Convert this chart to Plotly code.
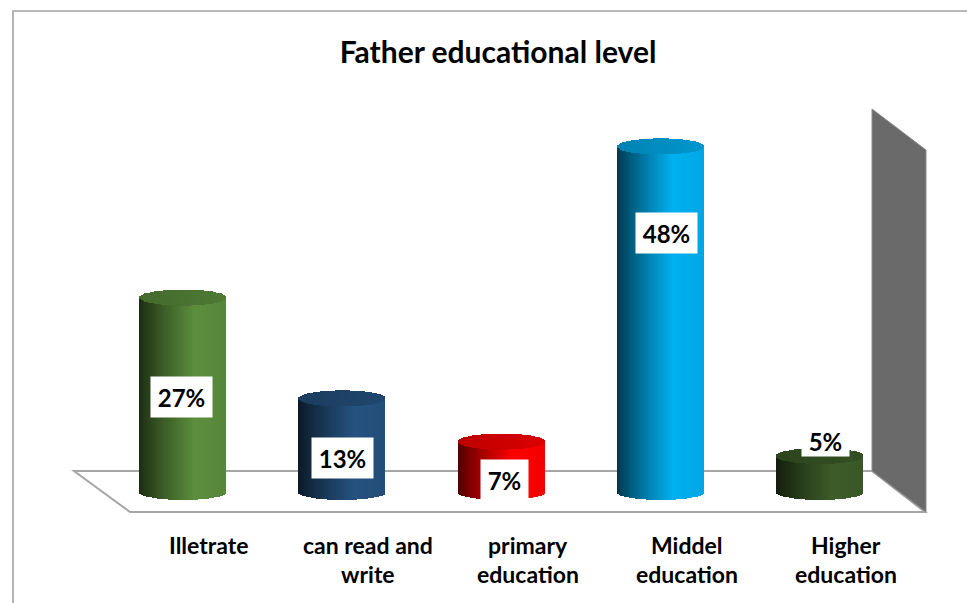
import numpy as np
import plotly.graph_objects as go

# ---- data -------------------------------------------------------------
categories = ["Illetrate", "can read and<br>write", "primary<br>education",
              "Middel<br>education", "Higher<br>education"]
percent = [27, 13, 7, 48, 5]
bar_colors = ["#5b8e3c", "#25527f", "#ff0000", "#00b0f0", "#3c5c28"]
title_text = "Father educational level"

# ---- layout constants -------------------------------------------------
W, H = 967, 603
PX_X = 159.25          # pixels per category step
X0_PX = 182.5          # pixel position of the first category
PX_Y = 7.2             # pixels per percent
Y0_PX = 492            # pixel row of the zero line
CYL_W = 87 / PX_X      # cylinder width in category units
ELL = 8 / PX_Y         # half height of the elliptical caps (data units)
N_STRIPS = 48

label_y = [13.2, 4.7, 1.65, 36.0, 7.1]        # data-label centres (percent units)
label_dx = [-1, 1, 3, 6, 6]                   # px nudges of the data labels
label_h = [40, 40, 40, 40, 30]
FONT = "Lato"


def hex_rgb(h):
    h = h.lstrip("#")
    return np.array([int(h[i:i + 2], 16) for i in (0, 2, 4)], dtype=float)


def rgb_str(c):
    c = np.clip(c, 0, 255)
    return "rgb(%d,%d,%d)" % tuple(int(round(v)) for v in c)


def body_factor(t):
    # dark on the left edge, brightest around two thirds across
    if t < 0.64:
        return 0.30 + 0.70 * (t / 0.64) ** 0.85
    return 1.0 - 0.05 * (t - 0.64) / 0.36


def top_factor(t):
    return 0.74 + 0.12 * t


def px_to_paper(x, y):
    return x / W, 1 - y / H


fig = go.Figure()

xs = list(range(len(categories)))
strip = CYL_W / N_STRIPS
base_rgb = [hex_rgb(c) for c in bar_colors]

# cylinder bodies, built from thin vertical strips to get the shading
for i in range(N_STRIPS):
    off = -CYL_W / 2 + i * strip
    wdt = min(strip * 1.6, CYL_W / 2 - off)
    t = (i + 0.5) / N_STRIPS
    u = 2 * t - 1
    s = np.sqrt(max(1 - u * u, 0.0))
    fig.add_trace(go.Bar(
        x=xs, y=[v + ELL * s for v in percent], base=[-ELL * s] * len(percent),
        width=wdt, offset=off,
        marker=dict(color=[rgb_str(c * body_factor(t)) for c in base_rgb], line_width=0),
        showlegend=False, hoverinfo="skip"))

# elliptical top faces
for i in range(N_STRIPS):
    off = -CYL_W / 2 + i * strip
    wdt = min(strip * 1.6, CYL_W / 2 - off)
    t = (i + 0.5) / N_STRIPS
    u = 2 * t - 1
    s = np.sqrt(max(1 - u * u, 0.0))
    fig.add_trace(go.Bar(
        x=xs, y=[2 * ELL * s] * len(percent), base=[v - ELL * s for v in percent],
        width=wdt, offset=off,
        marker=dict(color=[rgb_str(c * top_factor(t)) for c in base_rgb], line_width=0),
        showlegend=False, hoverinfo="skip"))

# ---- chart furniture: frame, floor, side wall -------------------------
shapes = []
fx0, fy0 = px_to_paper(13, 11)
shapes.append(dict(type="rect", xref="paper", yref="paper", x0=fx0, y0=-0.02, x1=1.02, y1=fy0,
                   line=dict(color="#a3a3a3", width=1.6), fillcolor="rgba(0,0,0,0)", layer="below"))


def path(points):
    pts = [px_to_paper(x, y) for x, y in points]
    return "M " + " L ".join("%.5f,%.5f" % p for p in pts) + " Z"


shapes.append(dict(type="path", xref="paper", yref="paper",
                   path=path([(74, 471), (872, 471), (925, 512), (130, 512)]),
                   fillcolor="white", line=dict(color="#a6a6a6", width=2), layer="below"))
shapes.append(dict(type="path", xref="paper", yref="paper",
                   path=path([(872, 109), (926, 150), (926, 512), (872, 471)]),
                   fillcolor="#6a6a6a", line=dict(color="#8a8a8a", width=1), layer="below"))

# ---- annotations ------------------------------------------------------
annotations = []
for i, v in enumerate(percent):
    txt = "%d%%" % v
    annotations.append(dict(
        x=i, y=label_y[i], xref="x", yref="y", xshift=label_dx[i],
        text="<b>%s</b>" % txt, showarrow=False,
        font=dict(family=FONT, size=24, color="black"),
        bgcolor="white", borderpad=0,
        width=61 if v >= 10 else 47, height=label_h[i],
        xanchor="center", yanchor="middle"))

label_shift = 26.5 / PX_X
for i, cat in enumerate(categories):
    for j, line in enumerate(cat.split("<br>")):
        annotations.append(dict(
            x=i + label_shift, y=-(545 - Y0_PX) / PX_Y - j * 29 / PX_Y,
            xref="x", yref="y", text="<b>%s</b>" % line, showarrow=False,
            font=dict(family=FONT, size=23, color="black"),
            xanchor="center", yanchor="middle"))

fig.update_layout(
    width=W, height=H,
    margin=dict(l=0, r=0, t=0, b=0),
    paper_bgcolor="white", plot_bgcolor="rgba(0,0,0,0)",
    barmode="overlay", bargap=0,
    title=dict(text="<b>%s</b>" % title_text, x=498 / W, y=1 - 52 / H,
               xanchor="center", yanchor="middle", xref="paper", yref="paper",
               font=dict(family=FONT, size=30, color="black")),
    xaxis=dict(range=[-X0_PX / PX_X, (W - X0_PX) / PX_X], visible=False, fixedrange=True),
    yaxis=dict(range=[-(H - Y0_PX) / PX_Y, Y0_PX / PX_Y], visible=False, fixedrange=True),
    shapes=shapes, annotations=annotations,
)

fig.write_html("out.html")
